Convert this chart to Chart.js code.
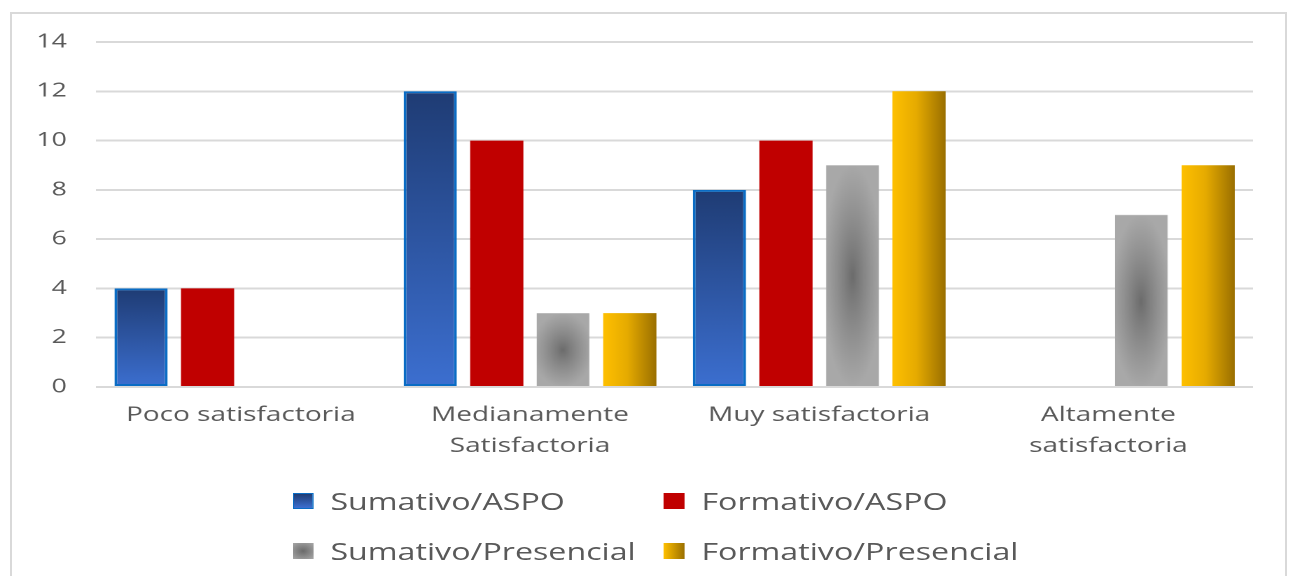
<!DOCTYPE html>
<html>
<head>
<meta charset="utf-8">
<script src="https://cdn.jsdelivr.net/npm/chart.js@4.4.1/dist/chart.umd.min.js"></script>
<style>
  body { margin: 0; background: #fff; width: 1292px; height: 576px; overflow: hidden; position: relative; font-family: "Open Sans", sans-serif; }
  #marco { position: absolute; left: 10px; top: 12px; width: 1273px; height: 600px; border: 2px solid #d9d9d9; }
  /* la imagen original está estirada en horizontal, por eso el scaleX */
  #envoltura { position: absolute; left: 0; top: 0; width: 923px; height: 576px; transform: scaleX(1.4); transform-origin: 0 0; }
  #leyenda { position: absolute; left: 209px; top: 476px; display: grid; grid-template-columns: 265px auto; grid-auto-rows: 50px; font-size: 23px; color: #595959; }
  .item { display: flex; align-items: center; white-space: nowrap; }
  .caja { width: 15px; height: 16px; margin-right: 12px; box-sizing: border-box; }
</style>
</head>
<body>
<div id="marco"></div>
<div id="envoltura">
  <canvas id="grafico"></canvas>
  <div id="leyenda"></div>
</div>
<script>
  const categorias = [["Poco satisfactoria"], ["Medianamente", "Satisfactoria"], ["Muy satisfactoria"], ["Altamente", "satisfactoria"]];
  const series = ["Sumativo/ASPO", "Formativo/ASPO", "Sumativo/Presencial", "Formativo/Presencial"];
  const sumativoAspo = [4, 12, 8, 0];
  const formativoAspo = [4, 10, 10, 0];
  const sumativoPresencial = [0, 3, 9, 7];
  const formativoPresencial = [0, 3, 12, 9];
  const marcasY = [0, 2, 4, 6, 8, 10, 12, 14];

  const CAT_PCT = 0.92;
  const BAR_PCT = 0.8;
  const GRIS_TEXTO = "#595959";

  // posicion de cada barra sacada de las escalas del grafico
  const cajaBarra = (ctx) => {
    const chart = ctx.chart;
    const xs = chart.scales.x;
    const ys = chart.scales.y;
    if (ctx.type !== "data" || !chart.chartArea || !xs || !ys) return null;
    const slot = (xs.width / categorias.length) * CAT_PCT / series.length;
    const cx = xs.getPixelForValue(ctx.dataIndex) + (ctx.datasetIndex - (series.length - 1) / 2) * slot;
    const mitad = (slot * BAR_PCT) / 2;
    return {left: cx - mitad, right: cx + mitad, top: ys.getPixelForValue(ctx.raw), base: ys.getPixelForValue(0)};
  };

  const fondoAzul = (ctx) => {
    const b = cajaBarra(ctx);
    if (!b) return "#2e5aa8";
    const g = ctx.chart.ctx.createLinearGradient(0, b.top, 0, b.base);
    g.addColorStop(0, "#1f3c74");
    g.addColorStop(1, "#3c6fd0");
    return g;
  };

  const fondoAmarillo = (ctx) => {
    const b = cajaBarra(ctx);
    if (!b) return "#e0a800";
    const g = ctx.chart.ctx.createLinearGradient(b.left, 0, b.right, 0);
    g.addColorStop(0, "#ffc000");
    g.addColorStop(0.45, "#e6ab00");
    g.addColorStop(1, "#9a6f00");
    return g;
  };

  // degradado "de ruta" del gris: oscuro en el centro y claro en los bordes
  const fondoGris = (ctx) => {
    const b = cajaBarra(ctx);
    if (!b || !ctx.raw) return "#8c8c8c";
    const w = Math.max(1, Math.round(b.right - b.left));
    const h = Math.max(1, Math.round(b.base - b.top));
    const off = document.createElement("canvas");
    off.width = w;
    off.height = h;
    const oc = off.getContext("2d");
    const img = oc.createImageData(w, h);
    for (let y = 0; y < h; y++) {
      for (let x = 0; x < w; x++) {
        const dx = Math.abs(((x + 0.5) / w) * 2 - 1);
        const dy = Math.abs(((y + 0.5) / h) * 2 - 1);
        const t = Math.min(1, Math.sqrt(dx * dx * 0.8 + dy * dy));
        const v = Math.round(106 + (168 - 106) * Math.pow(t, 0.85));
        const i = (y * w + x) * 4;
        img.data[i] = v;
        img.data[i + 1] = v;
        img.data[i + 2] = v;
        img.data[i + 3] = 255;
      }
    }
    oc.putImageData(img, 0, 0);
    const p = ctx.chart.ctx.createPattern(off, "no-repeat");
    p.setTransform(new DOMMatrix().translate(Math.round(b.left), Math.round(b.top)));
    return p;
  };

  // leyenda en html (dos columnas como en el original)
  const muestras = [
    "background:linear-gradient(to bottom,#1f3c74,#3c6fd0);border:1px solid #0a6cc4",
    "background:#c00000",
    "background:radial-gradient(circle,#6a6a6a,#a8a8a8)",
    "background:linear-gradient(to right,#ffc000,#9a6f00)",
  ];
  document.getElementById("leyenda").innerHTML = series
    .map((s, i) => `<div class="item"><span class="caja" style="${muestras[i]}"></span>${s}</div>`)
    .join("");

  new Chart(document.getElementById("grafico"), {
    type: "bar",
    data: {
      labels: categorias,
      datasets: [
        {
          label: series[0],
          data: sumativoAspo,
          backgroundColor: fondoAzul,
          borderColor: "#0a6cc4",
          borderWidth: (ctx) => (ctx.raw ? 2 : 0),
          borderSkipped: false,
        },
        {label: series[1], data: formativoAspo, backgroundColor: "#c00000"},
        {label: series[2], data: sumativoPresencial, backgroundColor: fondoGris},
        {label: series[3], data: formativoPresencial, backgroundColor: fondoAmarillo},
      ],
    },
    options: {
      responsive: true,
      maintainAspectRatio: false,
      devicePixelRatio: 2,
      animation: false,
      categoryPercentage: CAT_PCT,
      barPercentage: BAR_PCT,
      layout: {padding: {left: 5, right: 28, top: 42, bottom: 101}},
      scales: {
        x: {
          grid: {display: false, drawTicks: false},
          border: {display: false},
          ticks: {
            padding: 13,
            color: GRIS_TEXTO,
            maxRotation: 0,
            autoSkip: false,
            font: {family: "Open Sans", size: 20, lineHeight: 1.55},
          },
        },
        y: {
          min: 0,
          max: 14,
          afterBuildTicks: (scale) => {
            scale.ticks = marcasY.map((v) => ({value: v}));
          },
          grid: {color: "#d9d9d9", lineWidth: 2, drawTicks: false},
          border: {display: false},
          ticks: {padding: 21, color: GRIS_TEXTO, font: {family: "Open Sans", size: 19}},
        },
      },
      plugins: {
        legend: {display: false},
        tooltip: {enabled: false},
      },
    },
  });
</script>
</body>
</html>
